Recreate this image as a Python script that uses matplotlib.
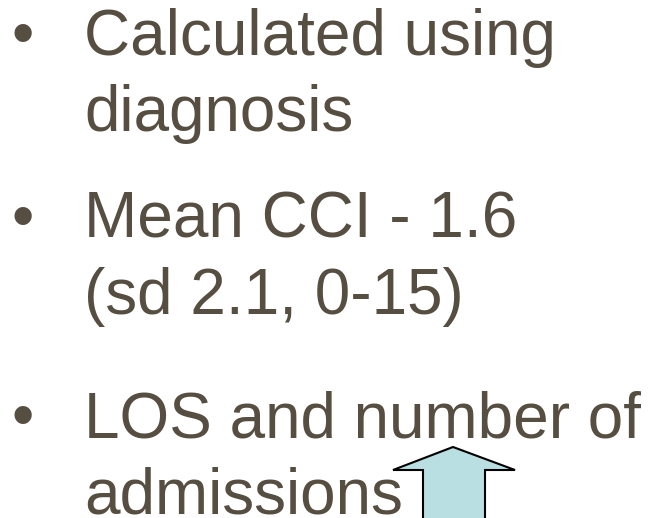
import matplotlib
matplotlib.use("Agg")
import matplotlib.pyplot as plt
from matplotlib.patches import Polygon

# bullet items: lines of each bullet
bullets = [
    ["Calculated using", "diagnosis"],
    ["Mean CCI - 1.6", "(sd 2.1, 0-15)"],
    ["LOS and number of", "admissions"],
]
# baseline (px from top) of the first line of each bullet
first_baselines = [55, 238, 437]
line_step = 76

# up arrow outline (px), cut off at bottom edge
arrow_x = [423, 423, 393, 453, 515, 485, 485]
arrow_y = [530, 470, 470, 447, 470, 470, 530]

text_color = "#574E42"
font = "Liberation Sans"
fsize = 46

fig = plt.figure(figsize=(6.49, 5.18), dpi=100)
ax = fig.add_axes([0, 0, 1, 1])
ax.set_xlim(0, 649)
ax.set_ylim(518, 0)
ax.axis("off")

for lines, y0 in zip(bullets, first_baselines):
    ax.text(23, y0, "\u2022", ha="center", va="baseline", color=text_color,
            fontsize=fsize, family=font)
    for i, line in enumerate(lines):
        ax.text(84, y0 + i * line_step, line, ha="left", va="baseline",
                color=text_color, fontsize=fsize, family=font)

arrow = Polygon(list(zip(arrow_x, arrow_y)), closed=True, facecolor="#B9DFE2",
                edgecolor="black", linewidth=1.5, zorder=3)
ax.add_patch(arrow)

fig.savefig("out.png", dpi=100)
